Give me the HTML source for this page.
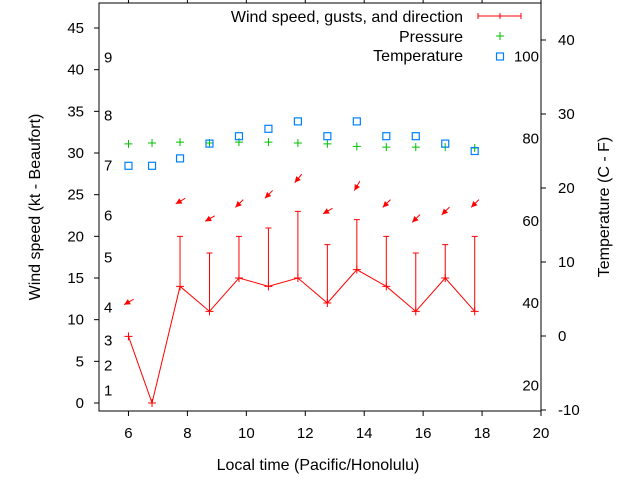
<!DOCTYPE html>
<html><head><meta charset="utf-8"><style>
body{margin:0;background:#fff}
svg{display:block;font-family:"Liberation Sans",sans-serif;font-size:15px}
.lbl{font-size:16px}
</style></head><body>
<svg id="chart" width="640" height="480"></svg>
<script>
const hours=[6,6.8,7.75,8.75,9.75,10.75,11.75,12.75,13.75,14.75,15.75,16.75,17.75];
const windSpeed=[8,0,14,11,15,14,15,12,16,14,11,15,11];
const gusts=[null,null,20,18,20,21,23,19,22,20,18,19,20];
const pressure=[31.1,31.2,31.3,31.2,31.3,31.3,31.2,31.1,30.8,30.7,30.7,30.7,30.6];
const tempC=[23,23,24,26,27,28,29,27,29,27,27,26,25];
const arrowLevel=[12.1,null,24.2,22.1,23.9,25,26.9,23,26,23.9,22.1,23,23.9];
const windDir=[60,null,60,60,45,45,40,60,30,45,45,45,45];
const xTicks=[6,8,10,12,14,16,18,20];
const yTicks=[0,5,10,15,20,25,30,35,40,45];
const cTicks=[-10,0,10,20,30,40];
const fLabels=[20,40,60,80,100];
const beaufortKt=[1,4,7,11,17,22,28,34,41];
const beaufortLabels=["1","2","3","4","5","6","7","8","9"];

const L=99,R=541,T=3,B=411;
const X=h=>L+(h-5)*(R-L)/15;
const Y=v=>403-v*8.333;
const YC=c=>410-(c+10)*7.4;
const svg=document.getElementById('chart');
const NS='http://www.w3.org/2000/svg';
function mk(tag,attrs,parent){const e=document.createElementNS(NS,tag);for(const k in attrs)e.setAttribute(k,attrs[k]);(parent||svg).appendChild(e);return e;}
function txt(x,y,s,anchor,cls){const t=mk('text',{x:x,y:y,'text-anchor':anchor||'start',fill:'#000'});if(cls)t.setAttribute('class',cls);t.textContent=s;return t;}

let e;
e=mk('rect',{x:L,y:T,width:R-L,height:B-T,fill:'none',stroke:'#000','stroke-width':1});


xTicks.forEach(h=>{
  e=mk('line',{x1:X(h),x2:X(h),y1:B,y2:B+5,stroke:'#000'});
  
  
  mk('line',{x1:X(h),x2:X(h),y1:T,y2:T-5,stroke:'#000'});
  e=txt(X(h),B+27,String(h),'middle');
  
  
});
yTicks.forEach(v=>{
  e=mk('line',{x1:L-5,x2:L,y1:Y(v),y2:Y(v),stroke:'#000'});
  
  
  e=txt(L-15,Y(v)+5,String(v),'end');
  
  
});
cTicks.forEach(c=>{
  e=mk('line',{x1:R,x2:R+5,y1:YC(c),y2:YC(c),stroke:'#000'});
  
  
  e=txt(R+17,YC(c)+5,String(c),'start');
  
  
});
fLabels.forEach(f=>{
  e=txt(539,YC((f-32)*5/9)+5,String(f),'end');
  
  
});
beaufortKt.forEach((k,i)=>{
  e=txt(104,Y(k)+1,beaufortLabels[i],'start');
  
  
});
e=txt(318,470,'Local time (Pacific/Honolulu)','middle','lbl');


e=txt(0,0,'Wind speed (kt - Beaufort)','middle','lbl');
e.setAttribute('transform','translate(40,207) rotate(-90)');


e=txt(0,0,'Temperature (C - F)','middle','lbl');
e.setAttribute('transform','translate(609,207) rotate(-90)');



let pts=hours.map((h,i)=>X(h)+','+Y(windSpeed[i])).join(' ');
e=mk('polyline',{points:pts,fill:'none',stroke:'#f00','stroke-width':1});


hours.forEach((h,i)=>{
  const x=X(h),y=Y(windSpeed[i]);
  e=mk('path',{d:`M${x-4},${y}H${x+4}M${x},${y-4}V${y+4}`,stroke:'#f00'});
  
  
  if(gusts[i]!=null){
    const g=Y(gusts[i]);
    e=mk('path',{d:`M${x},${y}V${g}M${x-3},${g}H${x+3}`,stroke:'#f00'});
    
    
  }
  if(arrowLevel[i]!=null){
    const ay=Y(arrowLevel[i]),a=windDir[i]*Math.PI/180;
    const dx=Math.sin(a),dy=-Math.cos(a);
    const tx=x-5*dx,ty=ay-5*dy,hx=x+6*dx,hy=ay+6*dy;
    const px=-dy,py=dx;
    const g=mk('g',{});
    
    
    mk('line',{x1:tx,y1:ty,x2:hx,y2:hy,stroke:'#f00'},g);
    mk('polygon',{points:`${tx},${ty} ${tx+6*dx+3*px},${ty+6*dy+3*py} ${tx+6*dx-3*px},${ty+6*dy-3*py}`,fill:'#f00'},g);
  }
  e=mk('path',{d:`M${x-4},${Y(pressure[i])}H${x+4}M${x},${Y(pressure[i])-4}V${Y(pressure[i])+4}`,stroke:'#00c000'});
  
  
  e=mk('rect',{x:x-3.5,y:YC(tempC[i])-3.5,width:7,height:7,fill:'none',stroke:'#0080ff','stroke-width':1.2});
  
  
});

const lg=mk('g',{});


e=txt(463,22,'Wind speed, gusts, and direction','end','lbl');lg.appendChild(e);


mk('path',{d:'M478,16H521M478,13V19M521,13V19M500,13V19',stroke:'#f00'},lg);
e=txt(463,42,'Pressure','end','lbl');lg.appendChild(e);


mk('path',{d:'M496,36H504M500,32V40',stroke:'#00c000'},lg);
e=txt(463,61,'Temperature','end','lbl');lg.appendChild(e);


mk('rect',{x:496.5,y:53,width:7,height:7,fill:'none',stroke:'#0080ff','stroke-width':1.2},lg);
</script>
</body></html>
